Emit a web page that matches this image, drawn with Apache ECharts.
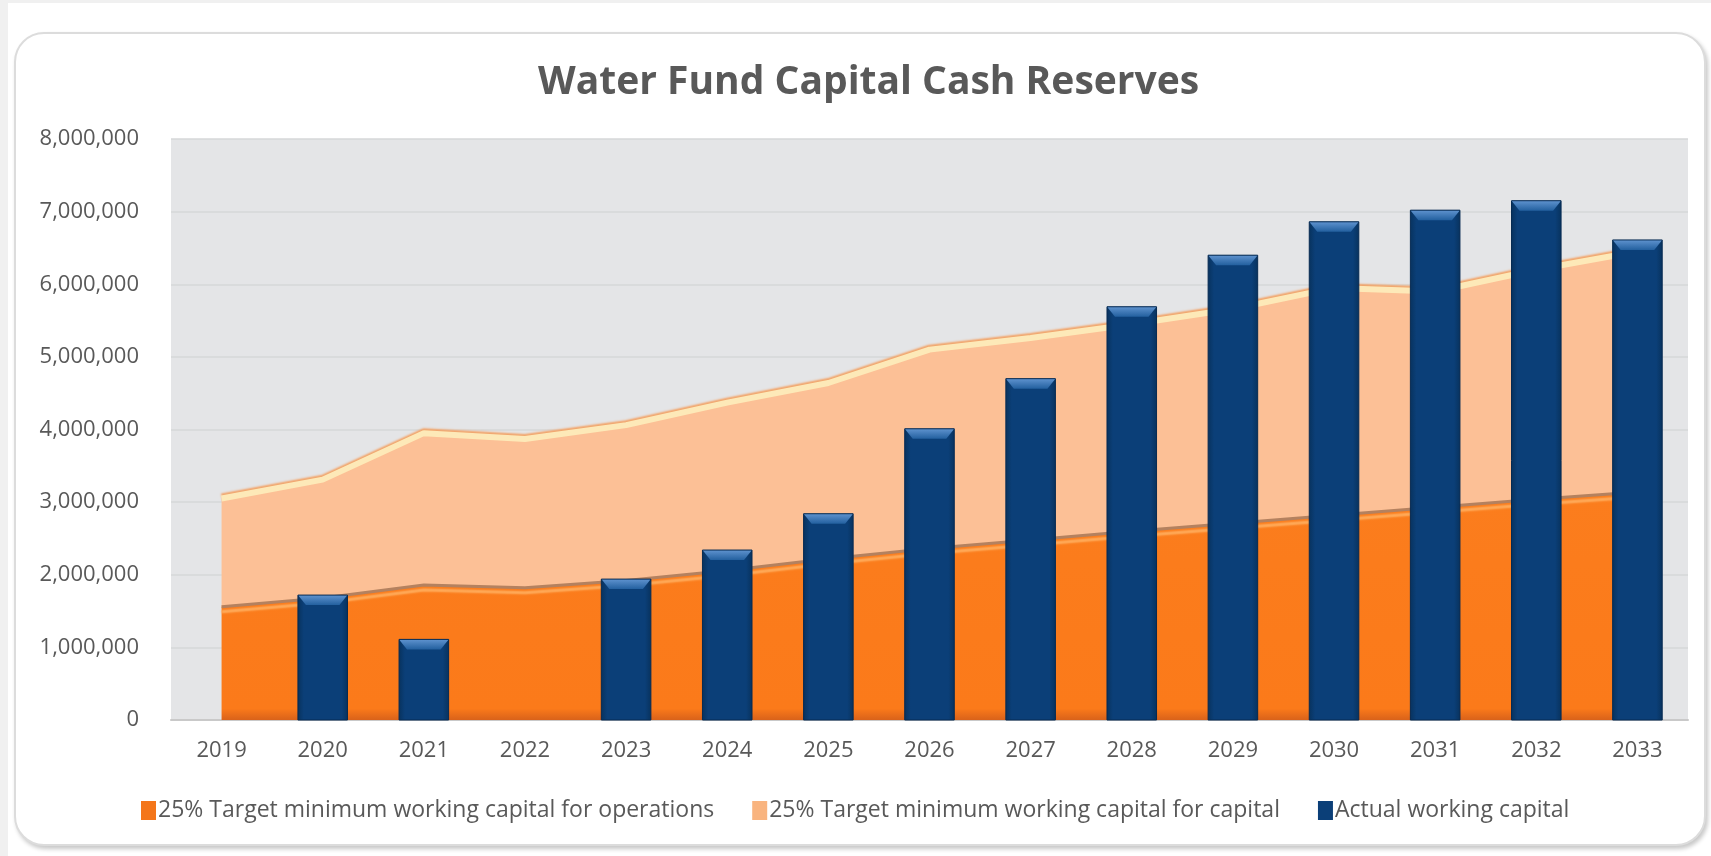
<!DOCTYPE html>
<html>
<head>
<meta charset="utf-8">
<title>Water Fund Capital Cash Reserves</title>
<script src="https://cdn.jsdelivr.net/npm/echarts@6/dist/echarts.min.js"></script>
<style>
  html, body { margin: 0; padding: 0; width: 1711px; height: 856px; overflow: hidden; background: #f0f0f0; }
  #page { position: absolute; left: 8px; top: 3px; right: 0; bottom: 0; background: #fff; }
  #card { position: absolute; left: 14px; top: 32px; width: 1688px; height: 810px;
          border: 2px solid #dcdcdc; border-radius: 30px; background: #fff;
          box-shadow: 2px 3px 4px rgba(0,0,0,0.22); }
  #reserveChart { position: absolute; left: 0; top: 0; width: 1711px; height: 856px; }
</style>
</head>
<body>
<div id="page"></div>
<div id="card"></div>
<div id="reserveChart"></div>
<script>
// values
const years = ['2019', '2020', '2021', '2022', '2023', '2024', '2025', '2026',
               '2027', '2028', '2029', '2030', '2031', '2032', '2033'];
const opsTarget = [1560000, 1680000, 1860000, 1820000, 1920000, 2060000, 2220000, 2360000,
                   2480000, 2600000, 2710000, 2820000, 2930000, 3040000, 3140000];
const capitalTarget = [1490000, 1630000, 2090000, 2050000, 2140000, 2310000, 2420000, 2740000,
                       2780000, 2850000, 2950000, 3130000, 2970000, 3160000, 3310000];
const actualCapital = [0, 1720000, 1110000, 0, 1940000, 2340000, 2840000, 4010000,
                       4700000, 5690000, 6400000, 6860000, 7020000, 7150000, 6610000];
const yTicks = { min: 0, max: 8000000, interval: 1000000 };

const seriesNames = [
  '25% Target minimum working capital for operations',
  '25% Target minimum working capital for capital',
  'Actual working capital'
];

const font = 'Open Sans';
const textGrey = '#595959';

// bar with a bevelled top, drawn from the axis scale
function renderBar(params, api) {
  const val = api.value(1);
  if (!val) return null;
  const top = api.coord([api.value(0), val]);
  const base = api.coord([api.value(0), 0]);
  const bw = api.size([1, 0])[0] * 0.49;
  const x0 = top[0] - bw / 2;
  const h = base[1] - top[1];
  const bev = Math.min(10, h / 2);
  return {
    type: 'group',
    children: [
      { type: 'rect', shape: { x: x0, y: top[1], width: bw, height: h },
        style: { fill: new echarts.graphic.LinearGradient(0, 0, 1, 0, [
          { offset: 0, color: '#08335f' }, { offset: 0.12, color: '#0b3f78' },
          { offset: 0.88, color: '#0b3f78' }, { offset: 1, color: '#08335f' }]) } },
      { type: 'polygon', shape: { points: [[x0, top[1]], [x0 + bw, top[1]], [x0 + bw - 8, top[1] + bev], [x0 + 8, top[1] + bev]] },
        style: { fill: new echarts.graphic.LinearGradient(0, 0, 0, 1, [
          { offset: 0, color: '#5f93cf' }, { offset: 1, color: '#23609f' }]) } },
      { type: 'rect', shape: { x: x0, y: top[1], width: bw, height: h },
        style: { fill: 'none', stroke: '#062a52', lineWidth: 1 } }
    ]
  };
}

let reserveChart = echarts.init(document.getElementById('reserveChart'));

let option = {
  backgroundColor: 'transparent',
  animation: false,
  title: {
    text: 'Water Fund Capital Cash Reserves',
    left: 533,
    top: 58,
    textStyle: { fontFamily: font, fontSize: 39, fontWeight: 'bold', color: textGrey }
  },
  legend: {
    data: seriesNames,
    left: 136,
    top: 794,
    icon: 'rect',
    itemWidth: 15,
    itemHeight: 19,
    itemGap: 38,
    textStyle: { fontFamily: font, fontSize: 23, color: textGrey, padding: [0, 0, 0, -3] }
  },
  grid: {
    left: 171,
    right: 23,
    top: 139,
    bottom: 136,
    show: true,
    backgroundColor: '#e4e5e7',
    borderWidth: 0
  },
  xAxis: {
    type: 'category',
    data: years,
    boundaryGap: true,
    axisLine: { show: true, lineStyle: { color: '#c9c9c9', width: 2 } },
    axisTick: { show: false },
    axisLabel: { fontFamily: font, fontSize: 22, color: textGrey, margin: 20 }
  },
  yAxis: {
    type: 'value',
    min: yTicks.min,
    max: yTicks.max,
    interval: yTicks.interval,
    axisLine: { show: false },
    axisTick: { show: false },
    splitLine: { lineStyle: { color: '#d6d7d9', width: 1.5 } },
    axisLabel: {
      fontFamily: font, fontSize: 22, color: textGrey, margin: 32,
      formatter: v => v.toLocaleString('en-US')
    }
  },
  series: [
    {
      name: seriesNames[0],
      type: 'line',
      stack: 'target',
      data: opsTarget,
      symbol: 'none',
      z: 2,
      itemStyle: { color: '#f4761a' },
      lineStyle: { color: '#b4815f', width: 3, shadowColor: '#ffae5e', shadowOffsetY: 5, shadowBlur: 2 },
      areaStyle: {
        opacity: 1,
        color: new echarts.graphic.LinearGradient(0, 0, 0, 1, [
          { offset: 0, color: '#fb7d1d' }, { offset: 0.95, color: '#fb7a1a' }, { offset: 1, color: '#d9621a' }])
      }
    },
    {
      name: seriesNames[1],
      type: 'line',
      stack: 'target',
      data: capitalTarget,
      symbol: 'none',
      z: 2,
      itemStyle: { color: '#f9b47f' },
      lineStyle: { color: '#fde9b8', width: 6, shadowColor: '#f2a469', shadowOffsetY: -2, shadowBlur: 2 },
      areaStyle: { opacity: 1, color: '#fcc096' }
    },
    {
      name: seriesNames[2],
      type: 'custom',
      renderItem: renderBar,
      data: years.map((y, i) => [y, actualCapital[i]]),
      encode: { x: 0, y: 1 },
      z: 3,
      itemStyle: { color: '#0b3f78' }
    }
  ]
};

reserveChart.setOption(option);
window.addEventListener('resize', () => {
  reserveChart.resize();
});
</script>
</body>
</html>
